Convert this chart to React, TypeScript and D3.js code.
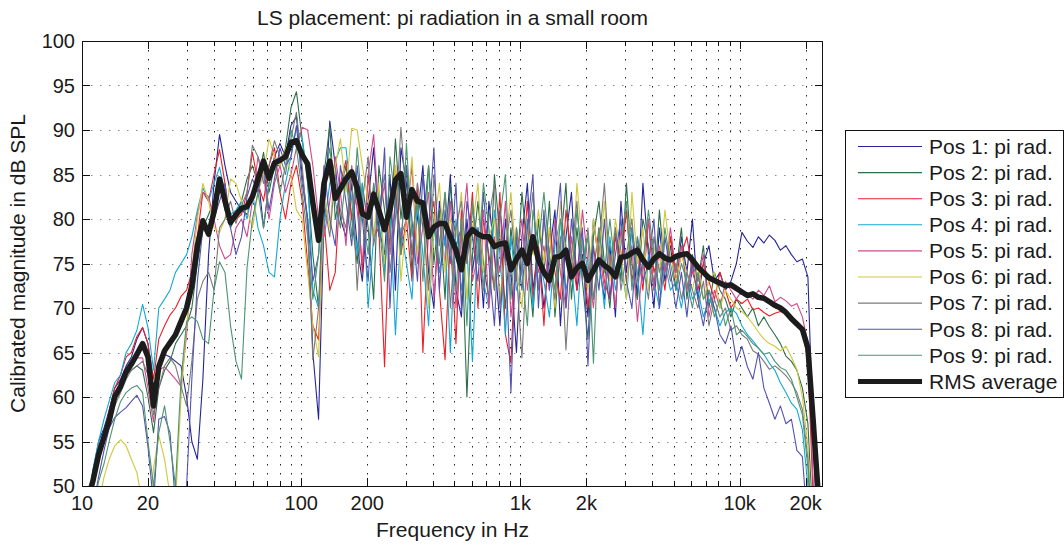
import React from 'react';
import * as d3 from 'd3';

// 1/12-octave frequency grid (Hz)
const FREQS = [
  10, 10.6, 11.2, 11.9, 12.6, 13.3, 14.1, 15.0, 15.9, 16.8, 17.8, 18.9,
  20, 21.2, 22.4, 23.8, 25.2, 26.7, 28.3, 30, 31.7, 33.6, 35.6, 37.8,
  40, 42.4, 44.9, 47.6, 50.4, 53.4, 56.6, 59.9, 63.5, 67.3, 71.3, 75.5,
  80, 84.8, 89.8, 95.1, 101, 107, 113, 120, 127, 135, 143, 151,
  160, 170, 180, 190, 202, 214, 226, 240, 254, 269, 285, 302,
  320, 339, 359, 381, 403, 427, 453, 479, 508, 538, 570, 604,
  640, 678, 718, 761, 806, 854, 905, 959, 1016, 1076, 1140, 1208,
  1280, 1356, 1437, 1522, 1613, 1709, 1810, 1918, 2032, 2153, 2281, 2416,
  2560, 2712, 2874, 3044, 3225, 3417, 3620, 3836, 4064, 4305, 4561, 4833,
  5120, 5424, 5747, 6089, 6451, 6834, 7241, 7671, 8127, 8611, 9123, 9665,
  10240, 10849, 11494, 12177, 12902, 13669, 14481, 15342, 16255, 17222, 18245, 19330,
  20480, 21698, 22988, 24355,
];

const POS1 = [
  42, 47, 51.5, 55, 56.5, 58.5, 61, 62, 63.5, 64.5, 66.5, 67.8,
  66, 60, 64, 64.8, 64.5, 64, 63.5, 60, 55, 53, 62, 76,
  84, 89.5, 86, 83, 82, 81, 80.5, 83, 85, 79, 84, 87,
  88.5, 87, 90.5, 91.5, 85, 80, 65, 57.5, 80, 91, 86, 80,
  78, 84, 77, 73, 82, 88, 79, 76, 85, 72, 88, 84,
  76, 80, 86, 74, 70, 82, 77, 85, 72, 69, 80, 74,
  79, 70, 82, 76, 68, 80, 74, 65, 78, 84, 72, 77,
  70, 76, 81, 68, 78, 83, 72, 76, 69, 80, 75, 71,
  77, 69, 82, 74, 79, 71, 84, 76, 70, 79, 73, 77,
  72, 78, 74, 80, 71, 75, 77, 73, 74, 72, 73, 75,
  78.5, 77.5, 76.8, 78, 77.3, 78.2, 77.6, 76.5, 77, 76, 75.2, 75.5,
  73.5, 55, 40, 35,
];
const POS2 = [
  41, 46.5, 50.5, 54, 56, 58, 60, 61, 62.5, 63, 63.5, 63,
  60, 56, 61, 63, 64, 66, 67, 68, 70, 75, 79, 80.5,
  82, 84, 81, 79, 80.5, 82, 84.5, 86, 84, 87.5, 83, 86,
  86, 88, 92.5, 94.3, 89, 84, 76, 70, 85, 90.5, 80, 83,
  86, 80, 75, 84, 79, 71, 86, 81, 77, 89, 80, 86,
  74, 83, 79, 86, 75, 81, 71, 84, 77, 79, 60, 76,
  82, 75, 71, 85, 78, 70, 79, 73, 83, 76, 69, 80,
  74, 82, 69, 77, 84, 71, 79, 73, 66.5, 78, 82, 75,
  70, 79, 73, 84, 75, 71, 80, 77, 72, 81, 74, 78,
  74, 79, 71, 76, 73, 77, 70, 74, 72, 71, 69, 71,
  70, 69, 70, 68, 69, 67.9, 67, 66, 64.6, 64, 63, 61,
  57, 45, 35, 30,
];
const POS3 = [
  41, 46.5, 51, 54.5, 56, 58.5, 61, 62.5, 64.5, 65, 66.8, 67.8,
  66, 62, 66.5, 68, 69.2, 70, 71.3, 72, 74, 78, 83, 82,
  85, 87.8, 84, 79.5, 80, 80.5, 83, 87.5, 84, 82, 86, 88,
  83, 80, 84, 86, 82, 75, 68, 66.4, 80, 72, 74, 84,
  86.6, 80, 83, 74, 85, 78, 79, 63.4, 81, 86, 76, 80,
  73, 84, 65, 79, 82, 72, 64.2, 78, 66, 81, 75, 83,
  70, 80, 76, 72, 83, 67, 63.8, 79, 74, 82, 71, 77,
  68, 79, 74, 71, 81, 76, 72, 78, 70, 74, 79, 73,
  71, 78, 75, 81, 73, 77, 72, 80, 74, 76, 72, 78,
  73, 76, 78, 74, 72, 75, 73, 71, 74, 72, 70, 71,
  70.5, 71, 69.8, 70, 69.5, 69.1, 69.4, 69.6, 69.4, 69, 68.5, 67.5,
  64, 48, 38, 32,
];
const POS4 = [
  42, 47.5, 51.8, 55, 57.5, 59.5, 61.6, 62.5, 65, 66, 67.5, 70.4,
  67.8, 63, 70, 71, 72, 74, 75, 76, 78, 81, 83.5, 82,
  84, 85.8, 83, 80.5, 81, 82, 80, 83, 79, 77, 74, 73.5,
  80, 84, 87, 90.2, 89, 85, 72, 70, 79, 84, 86.5, 88,
  88, 82, 76, 84, 70, 78, 83, 74, 81, 67, 79, 75,
  71, 82, 76, 68, 80, 74, 78, 65, 80, 72, 77, 64,
  79, 73, 70, 81, 76, 67, 78, 72, 74, 80, 70, 76,
  73, 69, 77, 80, 72, 75, 68, 78, 74, 71, 76, 70,
  78, 72, 75, 71, 79, 74, 67, 76, 73, 70, 75, 72,
  73, 70, 74, 71, 72, 69, 71, 70, 68, 69.5, 70, 69.4,
  68, 67, 66.3, 65.5, 64.8, 63.8, 63, 61.6, 60.5, 59.3, 58.6, 56.3,
  50, 40, 32, 28,
];
const POS5 = [
  40, 45, 49.5, 53, 55.5, 57.5, 60, 61.5, 63, 64.1, 64.4, 64.4,
  61, 57.2, 63, 63.4, 62.7, 62, 61.2, 67, 76, 80.5, 83, 82.5,
  80, 77, 75.5, 76, 79, 80, 78, 82, 87, 85, 80, 84,
  86, 83, 85, 88, 90.3, 90, 86, 80, 78, 82, 87, 83,
  77, 86, 81, 75, 85, 89.5, 80, 84, 76, 82, 78, 80,
  86, 75, 79, 83, 71, 80, 75, 82, 70, 78, 84, 73,
  76, 81, 70, 78, 74, 82, 69, 75, 80, 72, 78, 74,
  77, 72, 80, 74, 70, 78, 73, 81, 75, 70, 77, 72,
  76, 70, 79, 73, 77, 68.5, 75, 80, 72, 77, 74, 79,
  74, 77, 72, 75, 73, 76, 69, 72, 70, 73, 72, 71,
  72, 71.5, 71, 72, 71.4, 72.5, 70.7, 71.2, 70.8, 70.2, 70.5, 69,
  66, 50, 38, 30,
];
const POS6 = [
  35, 40, 44, 48, 51, 53, 54.5, 55.2, 54.5, 53, 51.5, 48,
  45, 52, 55.7, 53, 49, 48, 60, 68, 74, 80, 84, 82,
  79, 78.5, 80, 84.5, 84, 82, 81, 79, 83, 85, 89, 87,
  86, 88, 85, 81, 80, 74, 68, 64.5, 83, 79, 86, 89,
  83, 90.2, 90, 86, 82, 78, 84, 75, 81, 86, 73, 80,
  87, 76, 82, 70, 79, 84, 74, 80, 78, 83, 71, 79,
  84, 74, 78, 80, 71, 77, 83, 75, 70, 79, 76, 81,
  75, 79, 70, 82, 76, 73, 84, 77, 72, 80, 75, 82,
  73, 80, 76, 71, 83, 75, 79, 72, 77, 74, 81, 76,
  73, 76, 74, 72, 75, 71, 73, 74, 70, 72, 71, 70,
  69.6, 69, 68.2, 67.3, 66.5, 66, 65.7, 65.2, 65.7, 64.5, 63.1, 60,
  54.5, 42, 33, 28,
];
const POS7 = [
  40, 45.5, 50, 53, 55.5, 57.5, 59, 60.5, 62, 63, 63.5, 64,
  62.5, 58, 61, 63.5, 64.4, 63.5, 61.2, 59, 64, 71, 73, 74,
  72, 79, 80, 82, 79.5, 81.5, 83, 88.3, 87, 84, 86, 88.8,
  87, 85, 89, 92, 86, 79, 64.2, 70, 82, 78, 85, 81,
  79, 85, 72, 82, 87, 77, 81, 85, 74, 80, 90.3, 82,
  76, 84, 80, 72, 85, 77, 83, 70, 79, 82, 75, 81,
  78, 72, 80, 84, 70, 77, 81, 74, 64.4, 77, 83, 72,
  80, 75, 71, 78, 65.3, 76, 82, 73, 79, 71, 77, 84,
  74, 79, 72, 76, 80, 73, 75, 71, 78, 74, 76, 73,
  75, 71, 74, 72, 70, 73, 68, 71, 69, 70, 67.5, 68,
  67, 66.5, 65.2, 64.8, 64, 63.1, 63.5, 63, 62.4, 61.6, 60.5, 58.6,
  53, 42, 33, 28,
];
const POS8 = [
  38, 43, 47.5, 51, 54, 56.5, 57.7, 58.3, 58.8, 59.5, 60.2, 59,
  54.4, 48, 57.5, 57.8, 56, 48, 45, 50, 62, 73, 79, 78,
  80, 82, 84, 79, 76, 78, 82.5, 84.5, 83, 86, 81, 84.5,
  88, 86, 87, 90.5, 84, 80, 73, 76, 86, 80, 77, 86,
  82, 77, 86, 80, 73, 84, 78, 88, 70, 83, 77, 86,
  80, 73, 85, 79, 88, 72, 81, 75, 84, 70, 82, 78,
  73, 83, 75, 68, 81, 76, 60.5, 78, 72, 79, 85, 70,
  81, 72, 78, 84, 70, 80, 74, 79, 63.5, 77, 72, 80,
  71, 76, 80, 73, 70, 78, 73, 75, 80, 70, 78, 74,
  70, 74, 69, 75, 71, 68, 72, 70, 67, 66, 68, 64,
  65.7, 63.4, 62, 65, 61, 59.3, 57.5, 59, 57, 57.5, 54, 53.3,
  45, 36, 30, 26,
];
const POS9 = [
  38, 43, 47, 50.5, 52.5, 55, 57.5, 59.5, 60.5, 61, 61.3, 60.5,
  55, 50, 56, 59, 55, 50, 62, 68.5, 69, 68.5, 66.5, 66,
  72, 75.2, 74, 68, 64, 62, 74.5, 80, 83, 79, 84, 86,
  83, 86, 90, 88, 83, 78, 71, 76, 84, 88, 82, 79,
  85, 78, 88, 81, 76, 84, 80, 73, 87, 82, 76, 88.5,
  78, 82, 73, 86, 79, 75, 83, 77, 72, 80, 68, 82,
  75, 84, 79, 72, 80, 85, 71, 79, 74, 68, 81, 77,
  83, 76, 72, 80, 77, 73, 81, 75, 78, 63.8, 79, 74,
  80, 74, 77, 82, 72, 78, 75, 81, 76, 72, 79, 75,
  72, 75, 73, 70, 74, 71, 72, 69, 71, 68, 70, 67,
  67.5, 66.8, 66, 65.5, 64.8, 65, 64, 63.3, 63, 62, 60, 58,
  52, 40, 32, 28,
];
const RMS_AVG = [
  44, 48.5, 50.5, 53.5, 55.5, 57.3, 60, 61.2, 62.8, 63.7, 64.8, 66,
  64.5, 59, 63.4, 65.2, 66.1, 67, 68.5, 70, 72.5, 77, 79.8, 78.3,
  80.8, 84.5, 82, 79.6, 80.5, 81.2, 81.4, 82.5, 84.5, 86.5, 84.6, 86.3,
  86.6, 87, 88.6, 88.8, 87.2, 86.2, 81.8, 77.6, 84, 86.5, 82.3, 83.4,
  84.5, 85.3, 83.5, 80.6, 80.2, 82.8, 81, 78.8, 81, 84.4, 85.1, 80.2,
  83.3, 82, 81.8, 78, 79.1, 79.5, 79.5, 78, 76.5, 74.3, 78, 78.8,
  78.3, 78, 78, 76.9, 77.2, 77.3, 74.3, 75.5, 76.5, 75, 78, 75.4,
  74, 73.1, 75.7, 75.8, 76.5, 73.5, 74.5, 75, 73.1, 74.2, 75.4, 74.8,
  74.3, 73.5, 75.7, 75.8, 76.2, 76.5, 75.4, 74.6, 75.5, 76.1, 75.6, 75.4,
  75.8, 76, 76.1, 75.4, 74.6, 74, 73.4, 73.1, 72.8, 72.5, 72.6, 72.2,
  71.8, 71.4, 71.6, 71.2, 71.1, 70.7, 70.3, 70, 69.5, 68.8, 68.2, 67.6,
  65.5, 57, 48, 40,
];

const SERIES = [POS1, POS2, POS3, POS4, POS5, POS6, POS7, POS8, POS9];
const SERIES_LABELS = [
  'Pos 1: pi rad.', 'Pos 2: pi rad.', 'Pos 3: pi rad.', 'Pos 4: pi rad.', 'Pos 5: pi rad.',
  'Pos 6: pi rad.', 'Pos 7: pi rad.', 'Pos 8: pi rad.', 'Pos 9: pi rad.',
];
const RMS_LABEL = 'RMS average';
const SERIES_COLORS = [
  '#24249a', '#2c6e48', '#ee1c24', '#12a8d6', '#d04a8c',
  '#cfc83c', '#7a7a7a', '#5252b0', '#4c9472',
];

const X_TICKS = [10, 20, 100, 200, 1000, 2000, 10000, 20000];
const X_TICK_LABELS = ['10', '20', '100', '200', '1k', '2k', '10k', '20k'];
const X_GRID = [
  10, 20, 30, 40, 50, 60, 70, 80, 90,
  100, 200, 300, 400, 500, 600, 700, 800, 900,
  1000, 2000, 3000, 4000, 5000, 6000, 7000, 8000, 9000,
  10000, 20000,
];
const Y_TICKS = [50, 55, 60, 65, 70, 75, 80, 85, 90, 95, 100];

const TITLE = 'LS placement: pi radiation in a small room';
const X_LABEL = 'Frequency in Hz';
const Y_LABEL = 'Calibrated magnitude in dB SPL';

const FONT = "'Liberation Sans', Arial, Helvetica, sans-serif";

export default function App() {
  const W = 1064;
  const H = 545;
  const L = 82, R = 823, T = 41, B = 486;
  const x = d3.scaleLog().domain([10, 24000]).range([L, R]);
  const y = d3.scaleLinear().domain([50, 100]).range([B, T]);
  const line = d3
    .line<number>()
    .x((_, i) => x(FREQS[i]))
    .y((d) => y(d));

  const px = (v: number) => Math.round(v) + 0.5;

  const legX = 845, legY = 130, legW = 218, legH = 267;
  const legRow0 = 146.5, legStep = 26.1;

  return (
    <svg
      width={W}
      height={H}
      viewBox={`0 0 ${W} ${H}`}
      style={{ position: 'absolute', left: 0, top: 0, background: '#fff' }}
      fontFamily={FONT}
    >
      <defs>
        <clipPath id="plotclip">
          <rect x={L} y={T} width={R - L} height={B - T} />
        </clipPath>
      </defs>
      <rect x={0} y={0} width={W} height={H} fill="#fff" />

      {/* grid */}
      <g>
        {Y_TICKS.slice(1, -1).map((v) => (
          <line key={'hy' + v} x1={L} x2={R} y1={px(y(v))} y2={px(y(v))}
            stroke="#8a8a8a" strokeWidth={1} strokeDasharray="1.5,7.5" />
        ))}
        {X_GRID.slice(1).map((f) => (
          <line key={'gx' + f} x1={px(x(f))} x2={px(x(f))} y1={T} y2={B}
            stroke="#222" strokeWidth={1} strokeDasharray="1.5,7.5" />
        ))}
      </g>

      {/* series */}
      <g clipPath="url(#plotclip)" fill="none" strokeLinejoin="round">
        {SERIES.map((s, i) => (
          <path key={'s' + i} d={line(s) || ''} stroke={SERIES_COLORS[i]} strokeWidth={1.1} />
        ))}
        <path d={line(RMS_AVG) || ''} stroke="#1c1c1c" strokeWidth={5.5} />
      </g>

      {/* axes box */}
      <rect x={L + 0.5} y={T + 0.5} width={R - L - 1} height={B - T} fill="none" stroke="#111" strokeWidth={1} />

      {/* ticks */}
      <g stroke="#111" strokeWidth={1}>
        {X_GRID.map((f) => {
          const major = X_TICKS.includes(f) || f === 1000 || f === 10000;
          const len = major ? 8 : 5;
          const xx = px(x(f));
          return (
            <g key={'tx' + f}>
              <line x1={xx} x2={xx} y1={B} y2={B - len} />
              <line x1={xx} x2={xx} y1={T} y2={T + len} />
            </g>
          );
        })}
        {Y_TICKS.map((v) => {
          const yy = px(y(v));
          return (
            <g key={'ty' + v}>
              <line x1={L} x2={L + 8} y1={yy} y2={yy} />
              <line x1={R} x2={R - 8} y1={yy} y2={yy} />
            </g>
          );
        })}
      </g>

      {/* tick labels */}
      <g fontSize={20} fill="#1a1a1a">
        {X_TICKS.map((f, i) => (
          <text key={'lx' + f} x={x(f)} y={510} textAnchor="middle">{X_TICK_LABELS[i]}</text>
        ))}
        {Y_TICKS.map((v) => (
          <text key={'ly' + v} x={75} y={y(v)} dy="0.35em" textAnchor="end">{v}</text>
        ))}
      </g>

      {/* titles */}
      <text x={(L + R) / 2} y={25} textAnchor="middle" fontSize={21} fill="#1a1a1a">{TITLE}</text>
      <text x={(L + R) / 2} y={537} textAnchor="middle" fontSize={21} fill="#1a1a1a">{X_LABEL}</text>
      <text transform={`translate(25, ${(T + B) / 2}) rotate(-90)`} textAnchor="middle" fontSize={21} fill="#1a1a1a">{Y_LABEL}</text>

      {/* legend */}
      <g>
        <rect x={legX + 0.5} y={legY + 0.5} width={legW} height={legH} fill="#fff" stroke="#111" strokeWidth={1} />
        {SERIES_LABELS.map((lab, i) => {
          const yy = legRow0 + i * legStep;
          return (
            <g key={'leg' + i}>
              <line x1={858} x2={922} y1={yy} y2={yy} stroke={SERIES_COLORS[i]} strokeWidth={1.1} />
              <text x={929} y={yy} dy="0.35em" fontSize={21} fill="#1a1a1a">{lab}</text>
            </g>
          );
        })}
        <line x1={858} x2={922} y1={legRow0 + 9 * legStep} y2={legRow0 + 9 * legStep} stroke="#1c1c1c" strokeWidth={5} />
        <text x={929} y={legRow0 + 9 * legStep} dy="0.35em" fontSize={21} fill="#1a1a1a">{RMS_LABEL}</text>
      </g>
    </svg>
  );
}
